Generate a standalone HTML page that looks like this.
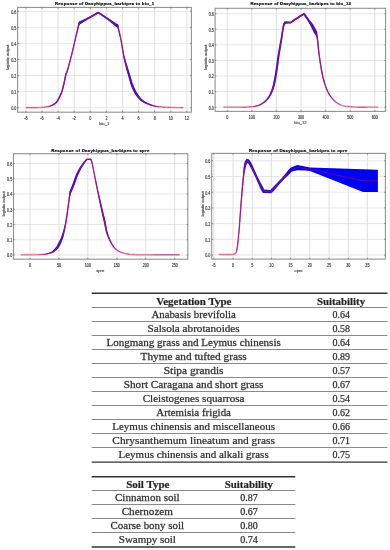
<!DOCTYPE html>
<html><head><meta charset="utf-8"><style>
html,body{margin:0;padding:0;background:#fff;}
svg{display:block;will-change:transform;}
.tl{font-family:"Liberation Sans",sans-serif;font-size:4.5px;fill:#333;stroke:#555;stroke-width:0.2px;}
.tt{font-family:"Liberation Sans",sans-serif;font-size:4.3px;font-weight:bold;fill:#000;stroke:#111;stroke-width:0.2px;}
.al{font-family:"Liberation Sans",sans-serif;font-size:4.15px;fill:#333;stroke:#555;stroke-width:0.15px;}
.tb text{font-family:"Liberation Serif",serif;font-size:10px;fill:#222;stroke:#444;stroke-width:0.25px;text-anchor:middle;}
</style></head><body>
<svg width="390" height="550" viewBox="0 0 390 550">
<rect width="390" height="550" fill="#fff"/>
<g>
<path d='M25.9 7.4V112.2 M42 7.4V112.2 M58.1 7.4V112.2 M74.2 7.4V112.2 M90.3 7.4V112.2 M106.4 7.4V112.2 M122.5 7.4V112.2 M138.6 7.4V112.2 M154.7 7.4V112.2 M170.8 7.4V112.2 M186.9 7.4V112.2' stroke='#d0d0d0' stroke-width='0.65' fill='none'/>
<path d='M17.6 107.7H191.4 M17.6 91.63H191.4 M17.6 75.56H191.4 M17.6 59.49H191.4 M17.6 43.42H191.4 M17.6 27.35H191.4 M17.6 11.28H191.4' stroke='#dadada' stroke-width='0.65' fill='none'/>
<rect x='17.6' y='7.4' width='173.8' height='104.8' fill='none' stroke='#929292' stroke-width='1.1'/>
<path d='M25.9 112.2v-1.3M25.9 7.4v1.3 M42 112.2v-1.3M42 7.4v1.3 M58.1 112.2v-1.3M58.1 7.4v1.3 M74.2 112.2v-1.3M74.2 7.4v1.3 M90.3 112.2v-1.3M90.3 7.4v1.3 M106.4 112.2v-1.3M106.4 7.4v1.3 M122.5 112.2v-1.3M122.5 7.4v1.3 M138.6 112.2v-1.3M138.6 7.4v1.3 M154.7 112.2v-1.3M154.7 7.4v1.3 M170.8 112.2v-1.3M170.8 7.4v1.3 M186.9 112.2v-1.3M186.9 7.4v1.3 M17.6 107.7h1.3M191.4 107.7h-1.3 M17.6 91.63h1.3M191.4 91.63h-1.3 M17.6 75.56h1.3M191.4 75.56h-1.3 M17.6 59.49h1.3M191.4 59.49h-1.3 M17.6 43.42h1.3M191.4 43.42h-1.3 M17.6 27.35h1.3M191.4 27.35h-1.3 M17.6 11.28h1.3M191.4 11.28h-1.3' stroke='#555' stroke-width='0.6' fill='none'/>
<g class='tl' text-anchor='middle'><text transform='translate(25.9 119.6) scale(0.82 1)'>-8</text><text transform='translate(42 119.6) scale(0.82 1)'>-6</text><text transform='translate(58.1 119.6) scale(0.82 1)'>-4</text><text transform='translate(74.2 119.6) scale(0.82 1)'>-2</text><text transform='translate(90.3 119.6) scale(0.82 1)'>0</text><text transform='translate(106.4 119.6) scale(0.82 1)'>2</text><text transform='translate(122.5 119.6) scale(0.82 1)'>4</text><text transform='translate(138.6 119.6) scale(0.82 1)'>6</text><text transform='translate(154.7 119.6) scale(0.82 1)'>8</text><text transform='translate(170.8 119.6) scale(0.82 1)'>10</text><text transform='translate(186.9 119.6) scale(0.82 1)'>12</text></g>
<g class='tl' text-anchor='end'><text transform='translate(16.3 110.1) scale(0.82 1)'>0.0</text><text transform='translate(16.3 94.03) scale(0.82 1)'>0.1</text><text transform='translate(16.3 77.96) scale(0.82 1)'>0.2</text><text transform='translate(16.3 61.89) scale(0.82 1)'>0.3</text><text transform='translate(16.3 45.82) scale(0.82 1)'>0.4</text><text transform='translate(16.3 29.75) scale(0.82 1)'>0.5</text><text transform='translate(16.3 13.68) scale(0.82 1)'>0.6</text></g>
<text class='tt' x='55' y='5.3' textLength='99.1' lengthAdjust='spacing'>Response of Dasyhippus_barbipes to bio_1</text>
<text class='al' x='104.2' y='124.6' text-anchor='middle'>bio_1</text>
<text class='al' transform='translate(9 57.3) rotate(-90)' text-anchor='middle'>logistic output</text>
<path d='M227.3 8.3V111.4 M251.88 8.3V111.4 M276.46 8.3V111.4 M301.04 8.3V111.4 M325.62 8.3V111.4 M350.2 8.3V111.4 M374.78 8.3V111.4' stroke='#d0d0d0' stroke-width='0.65' fill='none'/>
<path d='M215.1 107.2H385.6 M215.1 91.62H385.6 M215.1 76.04H385.6 M215.1 60.46H385.6 M215.1 44.88H385.6 M215.1 29.3H385.6 M215.1 13.72H385.6' stroke='#dadada' stroke-width='0.65' fill='none'/>
<rect x='215.1' y='8.3' width='170.5' height='103.1' fill='none' stroke='#929292' stroke-width='1.1'/>
<path d='M227.3 111.4v-1.3M227.3 8.3v1.3 M251.88 111.4v-1.3M251.88 8.3v1.3 M276.46 111.4v-1.3M276.46 8.3v1.3 M301.04 111.4v-1.3M301.04 8.3v1.3 M325.62 111.4v-1.3M325.62 8.3v1.3 M350.2 111.4v-1.3M350.2 8.3v1.3 M374.78 111.4v-1.3M374.78 8.3v1.3 M215.1 107.2h1.3M385.6 107.2h-1.3 M215.1 91.62h1.3M385.6 91.62h-1.3 M215.1 76.04h1.3M385.6 76.04h-1.3 M215.1 60.46h1.3M385.6 60.46h-1.3 M215.1 44.88h1.3M385.6 44.88h-1.3 M215.1 29.3h1.3M385.6 29.3h-1.3 M215.1 13.72h1.3M385.6 13.72h-1.3' stroke='#555' stroke-width='0.6' fill='none'/>
<g class='tl' text-anchor='middle'><text transform='translate(227.3 118.8) scale(0.82 1)'>0</text><text transform='translate(251.88 118.8) scale(0.82 1)'>100</text><text transform='translate(276.46 118.8) scale(0.82 1)'>200</text><text transform='translate(301.04 118.8) scale(0.82 1)'>300</text><text transform='translate(325.62 118.8) scale(0.82 1)'>400</text><text transform='translate(350.2 118.8) scale(0.82 1)'>500</text><text transform='translate(374.78 118.8) scale(0.82 1)'>600</text></g>
<g class='tl' text-anchor='end'><text transform='translate(213.8 109.6) scale(0.82 1)'>0.0</text><text transform='translate(213.8 94.02) scale(0.82 1)'>0.1</text><text transform='translate(213.8 78.44) scale(0.82 1)'>0.2</text><text transform='translate(213.8 62.86) scale(0.82 1)'>0.3</text><text transform='translate(213.8 47.28) scale(0.82 1)'>0.4</text><text transform='translate(213.8 31.7) scale(0.82 1)'>0.5</text><text transform='translate(213.8 16.12) scale(0.82 1)'>0.6</text></g>
<text class='tt' x='250.4' y='5.3' textLength='100.6' lengthAdjust='spacing'>Response of Dasyhippus_barbipes to bio_12</text>
<text class='al' x='300.4' y='124.2' text-anchor='middle'>bio_12</text>
<text class='al' transform='translate(207 57.3) rotate(-90)' text-anchor='middle'>logistic output</text>
<path d='M30 153.7V259.2 M58.94 153.7V259.2 M87.88 153.7V259.2 M116.82 153.7V259.2 M145.76 153.7V259.2 M174.7 153.7V259.2' stroke='#d0d0d0' stroke-width='0.65' fill='none'/>
<path d='M13.5 255H187.8 M13.5 239.75H187.8 M13.5 224.5H187.8 M13.5 209.25H187.8 M13.5 194H187.8 M13.5 178.75H187.8 M13.5 163.5H187.8' stroke='#dadada' stroke-width='0.65' fill='none'/>
<rect x='13.5' y='153.7' width='174.3' height='105.5' fill='none' stroke='#929292' stroke-width='1.1'/>
<path d='M30 259.2v-1.3M30 153.7v1.3 M58.94 259.2v-1.3M58.94 153.7v1.3 M87.88 259.2v-1.3M87.88 153.7v1.3 M116.82 259.2v-1.3M116.82 153.7v1.3 M145.76 259.2v-1.3M145.76 153.7v1.3 M174.7 259.2v-1.3M174.7 153.7v1.3 M13.5 255h1.3M187.8 255h-1.3 M13.5 239.75h1.3M187.8 239.75h-1.3 M13.5 224.5h1.3M187.8 224.5h-1.3 M13.5 209.25h1.3M187.8 209.25h-1.3 M13.5 194h1.3M187.8 194h-1.3 M13.5 178.75h1.3M187.8 178.75h-1.3 M13.5 163.5h1.3M187.8 163.5h-1.3' stroke='#555' stroke-width='0.6' fill='none'/>
<g class='tl' text-anchor='middle'><text transform='translate(30 266.6) scale(0.82 1)'>0</text><text transform='translate(58.94 266.6) scale(0.82 1)'>50</text><text transform='translate(87.88 266.6) scale(0.82 1)'>100</text><text transform='translate(116.82 266.6) scale(0.82 1)'>150</text><text transform='translate(145.76 266.6) scale(0.82 1)'>200</text><text transform='translate(174.7 266.6) scale(0.82 1)'>250</text></g>
<g class='tl' text-anchor='end'><text transform='translate(12.2 257.4) scale(0.82 1)'>0.0</text><text transform='translate(12.2 242.15) scale(0.82 1)'>0.1</text><text transform='translate(12.2 226.9) scale(0.82 1)'>0.2</text><text transform='translate(12.2 211.65) scale(0.82 1)'>0.3</text><text transform='translate(12.2 196.4) scale(0.82 1)'>0.4</text><text transform='translate(12.2 181.15) scale(0.82 1)'>0.5</text><text transform='translate(12.2 165.9) scale(0.82 1)'>0.6</text></g>
<text class='tt' x='51.2' y='151.6' textLength='98.2' lengthAdjust='spacing'>Response of Dasyhippus_barbipes to spre</text>
<text class='al' x='100.2' y='272' text-anchor='middle'>spre</text>
<text class='al' transform='translate(5.2 203.9) rotate(-90)' text-anchor='middle'>logistic output</text>
<path d='M213.8 153.4V259.1 M233 153.4V259.1 M252.2 153.4V259.1 M271.4 153.4V259.1 M290.6 153.4V259.1 M309.8 153.4V259.1 M329 153.4V259.1 M348.2 153.4V259.1 M367.4 153.4V259.1' stroke='#d0d0d0' stroke-width='0.65' fill='none'/>
<path d='M211.7 255H385.4 M211.7 239.3H385.4 M211.7 223.6H385.4 M211.7 207.9H385.4 M211.7 192.2H385.4 M211.7 176.5H385.4 M211.7 160.8H385.4' stroke='#dadada' stroke-width='0.65' fill='none'/>
<rect x='211.7' y='153.4' width='173.7' height='105.7' fill='none' stroke='#929292' stroke-width='1.1'/>
<path d='M213.8 259.1v-1.3M213.8 153.4v1.3 M233 259.1v-1.3M233 153.4v1.3 M252.2 259.1v-1.3M252.2 153.4v1.3 M271.4 259.1v-1.3M271.4 153.4v1.3 M290.6 259.1v-1.3M290.6 153.4v1.3 M309.8 259.1v-1.3M309.8 153.4v1.3 M329 259.1v-1.3M329 153.4v1.3 M348.2 259.1v-1.3M348.2 153.4v1.3 M367.4 259.1v-1.3M367.4 153.4v1.3 M211.7 255h1.3M385.4 255h-1.3 M211.7 239.3h1.3M385.4 239.3h-1.3 M211.7 223.6h1.3M385.4 223.6h-1.3 M211.7 207.9h1.3M385.4 207.9h-1.3 M211.7 192.2h1.3M385.4 192.2h-1.3 M211.7 176.5h1.3M385.4 176.5h-1.3 M211.7 160.8h1.3M385.4 160.8h-1.3' stroke='#555' stroke-width='0.6' fill='none'/>
<g class='tl' text-anchor='middle'><text transform='translate(213.8 266.5) scale(0.82 1)'>-5</text><text transform='translate(233 266.5) scale(0.82 1)'>0</text><text transform='translate(252.2 266.5) scale(0.82 1)'>5</text><text transform='translate(271.4 266.5) scale(0.82 1)'>10</text><text transform='translate(290.6 266.5) scale(0.82 1)'>15</text><text transform='translate(309.8 266.5) scale(0.82 1)'>20</text><text transform='translate(329 266.5) scale(0.82 1)'>25</text><text transform='translate(348.2 266.5) scale(0.82 1)'>30</text><text transform='translate(367.4 266.5) scale(0.82 1)'>35</text></g>
<g class='tl' text-anchor='end'><text transform='translate(210.4 257.4) scale(0.82 1)'>0.0</text><text transform='translate(210.4 241.7) scale(0.82 1)'>0.1</text><text transform='translate(210.4 226) scale(0.82 1)'>0.2</text><text transform='translate(210.4 210.3) scale(0.82 1)'>0.3</text><text transform='translate(210.4 194.6) scale(0.82 1)'>0.4</text><text transform='translate(210.4 178.9) scale(0.82 1)'>0.5</text><text transform='translate(210.4 163.2) scale(0.82 1)'>0.6</text></g>
<text class='tt' x='248.9' y='151.6' textLength='98.5' lengthAdjust='spacing'>Response of Dasyhippus_barbipes to opre</text>
<text class='al' x='298.5' y='271.8' text-anchor='middle'>opre</text>
<text class='al' transform='translate(203.7 203.9) rotate(-90)' text-anchor='middle'>logistic output</text>
<polyline points='25.9,107.6 26.94,107.6 28.41,107.6 30.13,107.61 31.93,107.61 33.61,107.61 35,107.6 36.1,107.59 37.04,107.58 37.87,107.57 38.64,107.55 39.37,107.53 40.1,107.5 40.81,107.47 41.47,107.43 42.1,107.39 42.71,107.34 43.34,107.28 44,107.2 44.71,107.11 45.44,107.01 46.19,106.89 46.93,106.77 47.64,106.64 48.3,106.5 48.9,106.36 49.46,106.21 49.98,106.05 50.49,105.88 50.99,105.7 51.5,105.5 52.02,105.29 52.54,105.06 53.06,104.83 53.56,104.57 54.04,104.3 54.5,104 54.93,103.68 55.34,103.35 55.73,102.99 56.1,102.62 56.45,102.22 56.8,101.8 57.13,101.36 57.43,100.89 57.72,100.4 58.01,99.89 58.3,99.36 58.6,98.8 58.91,98.22 59.23,97.61 59.56,96.99 59.88,96.34 60.19,95.68 60.5,95 60.79,94.35 61.07,93.72 61.34,93.08 61.62,92.37 61.9,91.56 62.2,90.6 62.52,89.45 62.86,88.15 63.2,86.74 63.54,85.28 63.88,83.82 64.2,82.4 64.52,80.93 64.85,79.33 65.18,77.74 65.47,76.26 65.72,75 65.9,74.1 66.07,73.71 66.28,73.28 66.54,72.71 66.86,71.93 67.25,70.86 67.7,69.4 68.26,67.45 68.91,65.06 69.64,62.37 70.39,59.53 71.12,56.69 71.8,54 72.43,51.41 73.05,48.78 73.66,46.16 74.25,43.56 74.83,41.03 75.4,38.6 75.98,36.16 76.57,33.68 77.15,31.26 77.7,29.01 78.19,27.05 78.6,25.5 78.93,24.42 79.19,23.73 79.4,23.33 79.56,23.11 79.69,22.97 79.8,22.8 80.24,22.56 80.82,22.24 81.52,21.86 82.31,21.43 83.15,20.97 84,20.5 84.87,20.02 85.79,19.52 86.75,18.99 87.77,18.43 88.85,17.84 90,17.2 91.33,16.46 92.87,15.59 94.47,14.69 95.99,13.84 97.28,13.12 98.2,12.6 99.31,13.32 100.88,14.33 102.73,15.52 104.65,16.77 106.47,17.97 108,19 109.25,19.89 110.39,20.72 111.41,21.51 112.35,22.23 113.21,22.9 114,23.5 114.73,24.04 115.39,24.51 115.97,24.93 116.47,25.29 116.88,25.58 117.2,25.8 117.3,25.99 117.43,26.17 117.58,26.43 117.77,26.85 118.01,27.51 118.3,28.5 118.66,29.87 119.09,31.55 119.56,33.48 120.05,35.58 120.54,37.78 121,40 121.44,42.35 121.87,44.91 122.31,47.57 122.74,50.22 123.17,52.73 123.6,55 124.03,56.99 124.45,58.79 124.87,60.45 125.3,62.05 125.74,63.64 126.2,65.3 126.68,67 127.17,68.7 127.67,70.4 128.18,72.1 128.69,73.8 129.2,75.5 129.7,77.24 130.19,79 130.68,80.77 131.19,82.52 131.72,84.2 132.3,85.8 132.91,87.31 133.56,88.77 134.23,90.16 134.92,91.5 135.65,92.78 136.4,94 137.17,95.16 137.95,96.26 138.76,97.31 139.61,98.29 140.52,99.22 141.5,100.1 142.58,100.92 143.74,101.69 144.97,102.4 146.22,103.06 147.48,103.66 148.7,104.2 149.91,104.68 151.14,105.1 152.37,105.46 153.58,105.78 154.76,106.05 155.9,106.3 156.96,106.5 157.94,106.65 158.9,106.76 159.87,106.84 160.89,106.92 162,107 163.16,107.09 164.33,107.16 165.55,107.23 166.87,107.29 168.34,107.35 170,107.4 172.06,107.45 174.53,107.49 177.15,107.53 179.66,107.56 181.79,107.58 183.3,107.6' fill='none' stroke='#eeb0c6' stroke-width='1.8' stroke-linejoin='round'/>
<polygon points='25.9,107.65 26.94,107.65 28.41,107.65 30.13,107.66 31.93,107.66 33.61,107.66 35,107.65 36.1,107.64 37.04,107.63 37.88,107.62 38.64,107.6 39.37,107.58 40.1,107.55 40.82,107.52 41.48,107.48 42.1,107.44 42.72,107.39 43.35,107.33 44.01,107.25 44.72,107.19 45.46,107.11 46.21,107.02 46.96,106.92 47.68,106.81 48.34,106.7 48.96,106.61 49.54,106.5 50.09,106.39 50.62,106.27 51.15,106.12 51.68,105.95 52.22,105.76 52.76,105.55 53.3,105.33 53.83,105.08 54.36,104.81 54.86,104.52 55.32,104.18 55.76,103.83 56.18,103.46 56.58,103.07 56.96,102.66 57.33,102.21 57.68,101.74 58.01,101.25 58.31,100.74 58.6,100.21 58.89,99.68 59.19,99.12 59.51,98.54 59.83,97.93 60.16,97.29 60.48,96.64 60.81,95.96 61.12,95.28 61.4,94.62 61.67,93.98 61.95,93.32 62.22,92.59 62.51,91.76 62.8,90.78 63.12,89.61 63.45,88.3 63.79,86.88 64.12,85.42 64.45,83.95 64.77,82.53 65.1,81.05 65.45,79.46 65.79,77.86 66.1,76.38 66.36,75.13 66.55,74.28 66.66,73.99 66.85,73.55 67.1,72.95 67.41,72.14 67.77,71.03 68.21,69.55 68.75,67.59 69.4,65.19 70.11,62.49 70.84,59.65 71.56,56.8 72.22,54.11 72.86,51.51 73.48,48.88 74.08,46.25 74.67,43.66 75.26,41.13 75.83,38.7 76.44,36.27 77.07,33.8 77.69,31.39 78.27,29.15 78.8,27.21 79.25,25.68 79.7,24.68 80.07,24.11 80.34,23.9 80.53,23.9 80.8,23.81 80.72,24.02 80.93,23.83 81.48,23.44 82.15,22.99 82.89,22.49 83.69,21.96 84.51,21.43 85.37,20.93 86.27,20.41 87.22,19.86 88.23,19.27 89.31,18.66 90.44,18 91.78,17.25 93.32,16.39 94.92,15.49 96.44,14.64 97.73,13.91 98.11,13.51 98.81,14.09 100.38,15.11 102.22,16.3 104.14,17.56 105.95,18.76 107.46,19.79 108.66,20.7 109.75,21.57 110.74,22.38 111.64,23.14 112.48,23.85 113.26,24.5 113.95,25.11 114.57,25.65 115.11,26.14 115.57,26.56 115.94,26.91 115.98,27.02 115.99,26.78 116.3,26.89 116.56,26.96 116.88,27.2 117.28,27.74 117.74,28.65 118.12,30.01 118.57,31.68 119.06,33.6 119.58,35.69 120.09,37.88 120.57,40.08 120.98,42.43 121.4,44.99 121.8,47.66 122.21,50.31 122.62,52.83 123.03,55.11 123.4,57.13 123.77,58.95 124.13,60.64 124.5,62.27 124.88,63.88 125.27,65.56 125.72,67.28 126.18,68.99 126.66,70.7 127.14,72.41 127.62,74.12 128.1,75.82 128.58,77.55 129.05,79.32 129.53,81.1 130.03,82.87 130.56,84.6 131.14,86.24 131.77,87.8 132.42,89.29 133.11,90.72 133.83,92.09 134.58,93.41 135.35,94.67 136.17,95.85 137,96.97 137.87,98.03 138.78,99.05 139.77,100.01 140.83,100.91 142.01,101.73 143.26,102.48 144.55,103.16 145.86,103.77 147.17,104.33 148.44,104.82 149.7,105.27 150.97,105.65 152.23,105.98 153.47,106.25 154.67,106.48 155.83,106.65 156.91,106.81 157.91,106.9 158.88,106.96 159.85,106.99 160.88,107.02 162,107.05 163.16,107.14 164.33,107.21 165.55,107.28 166.87,107.34 168.34,107.4 170,107.45 172.06,107.5 174.53,107.54 177.15,107.57 179.65,107.61 181.79,107.63 183.3,107.65 183.3,107.55 181.79,107.53 179.66,107.51 177.15,107.48 174.53,107.44 172.06,107.4 170,107.35 168.34,107.3 166.87,107.24 165.55,107.18 164.33,107.11 163.17,107.04 162,106.95 160.89,106.82 159.88,106.69 158.92,106.55 157.98,106.39 157.01,106.2 155.97,105.95 154.86,105.63 153.7,105.31 152.51,104.95 151.32,104.55 150.13,104.09 148.96,103.58 147.79,102.99 146.58,102.34 145.39,101.64 144.23,100.9 143.15,100.11 142.17,99.29 141.27,98.44 140.43,97.54 139.65,96.58 138.9,95.56 138.17,94.48 137.45,93.33 136.72,92.15 136.02,90.91 135.34,89.61 134.69,88.25 134.06,86.83 133.46,85.36 132.89,83.81 132.35,82.17 131.83,80.45 131.33,78.69 130.82,76.92 130.3,75.18 129.76,73.47 129.22,71.78 128.68,70.1 128.15,68.42 127.63,66.73 127.13,65.04 126.61,63.41 126.11,61.83 125.62,60.26 125.14,58.62 124.66,56.85 124.17,54.89 123.72,52.63 123.26,50.13 122.81,47.49 122.35,44.84 121.89,42.27 121.43,39.92 120.99,37.68 120.52,35.47 120.05,33.36 119.6,31.42 119.2,29.73 118.86,28.35 118.75,27.28 118.67,26.49 118.6,25.9 118.56,25.45 118.61,25.2 118.42,24.58 117.83,24.24 117.38,24.01 116.84,23.72 116.21,23.38 115.51,22.97 114.74,22.5 113.93,21.95 113.05,21.33 112.09,20.63 111.02,19.88 109.84,19.07 108.54,18.21 107,17.18 105.17,15.98 103.23,14.73 101.38,13.55 99.81,12.54 98.29,11.69 96.84,12.32 95.55,13.05 94.03,13.9 92.43,14.8 90.89,15.66 89.56,16.4 88.4,17.02 87.31,17.59 86.28,18.13 85.3,18.64 84.37,19.12 83.49,19.57 82.6,19.97 81.73,20.36 80.9,20.72 80.16,21.04 79.54,21.29 78.88,21.58 78.58,22.14 78.6,22.33 78.46,22.76 78.31,23.35 78.15,24.16 77.95,25.32 77.57,26.9 77.12,28.87 76.61,31.13 76.07,33.56 75.52,36.05 74.97,38.5 74.4,40.93 73.82,43.47 73.23,46.06 72.63,48.68 72.01,51.3 71.38,53.89 70.68,56.58 69.93,59.41 69.17,62.24 68.43,64.93 67.76,67.31 67.19,69.25 66.72,70.68 66.32,71.73 65.99,72.47 65.71,73.01 65.48,73.44 65.25,73.92 65.07,74.88 64.84,76.13 64.56,77.61 64.25,79.21 63.94,80.8 63.63,82.27 63.31,83.69 62.96,85.15 62.61,86.6 62.26,88 61.92,89.29 61.6,90.42 61.3,91.36 61.01,92.15 60.74,92.83 60.47,93.46 60.18,94.07 59.88,94.72 59.58,95.39 59.27,96.05 58.95,96.68 58.63,97.3 58.32,97.9 58.01,98.48 57.71,99.03 57.42,99.56 57.14,100.06 56.86,100.53 56.57,100.97 56.27,101.39 55.95,101.79 55.62,102.17 55.27,102.52 54.92,102.86 54.54,103.18 54.14,103.48 53.73,103.78 53.29,104.06 52.81,104.32 52.32,104.58 51.82,104.82 51.32,105.05 50.83,105.27 50.35,105.49 49.87,105.71 49.37,105.91 48.84,106.11 48.26,106.3 47.61,106.46 46.91,106.62 46.17,106.77 45.43,106.91 44.7,107.03 43.99,107.15 43.34,107.23 42.71,107.29 42.1,107.34 41.47,107.38 40.81,107.42 40.1,107.45 39.36,107.48 38.64,107.5 37.87,107.52 37.04,107.53 36.09,107.54 35,107.55 33.61,107.56 31.93,107.56 30.13,107.56 28.41,107.55 26.94,107.55 25.9,107.55' fill='#3210c6'/>
<polyline points='25.9,107.6 26.94,107.6 28.41,107.6 30.13,107.61 31.93,107.61 33.61,107.61 35,107.6 36.1,107.59 37.04,107.58 37.87,107.57 38.64,107.55 39.37,107.53 40.1,107.5 40.81,107.47 41.47,107.43 42.1,107.39 42.71,107.34 43.34,107.28 44,107.2 44.71,107.11 45.44,107.01 46.19,106.89 46.93,106.77 47.64,106.64 48.3,106.5 48.9,106.36 49.46,106.21 49.98,106.05 50.49,105.88 50.99,105.7 51.5,105.5 52.02,105.29 52.54,105.06 53.06,104.83 53.56,104.57 54.04,104.3 54.5,104 54.93,103.68 55.34,103.35 55.73,102.99 56.1,102.62 56.45,102.22 56.8,101.8 57.13,101.36 57.43,100.89 57.72,100.4 58.01,99.89 58.3,99.36 58.6,98.8 58.91,98.22 59.23,97.61 59.56,96.99 59.88,96.34 60.19,95.68 60.5,95 60.79,94.35 61.07,93.72 61.34,93.08 61.62,92.37 61.9,91.56 62.2,90.6 62.52,89.45 62.86,88.15 63.2,86.74 63.54,85.28 63.88,83.82 64.2,82.4 64.52,80.93 64.85,79.33 65.18,77.74 65.47,76.26 65.72,75 65.9,74.1 66.07,73.71 66.28,73.28 66.54,72.71 66.86,71.93 67.25,70.86 67.7,69.4 68.26,67.45 68.91,65.06 69.64,62.37 70.39,59.53 71.12,56.69 71.8,54 72.43,51.41 73.05,48.78 73.66,46.16 74.25,43.56 74.83,41.03 75.4,38.6 75.98,36.16 76.57,33.68 77.15,31.26 77.7,29.01 78.19,27.05 78.6,25.5 78.93,24.42 79.19,23.73 79.4,23.33 79.56,23.11 79.69,22.97 79.8,22.8 80.24,22.56 80.82,22.24 81.52,21.86 82.31,21.43 83.15,20.97 84,20.5 84.87,20.02 85.79,19.52 86.75,18.99 87.77,18.43 88.85,17.84 90,17.2 91.33,16.46 92.87,15.59 94.47,14.69 95.99,13.84 97.28,13.12 98.2,12.6 99.31,13.32 100.88,14.33 102.73,15.52 104.65,16.77 106.47,17.97 108,19 109.25,19.89 110.39,20.72 111.41,21.51 112.35,22.23 113.21,22.9 114,23.5 114.73,24.04 115.39,24.51 115.97,24.93 116.47,25.29 116.88,25.58 117.2,25.8 117.3,25.99 117.43,26.17 117.58,26.43 117.77,26.85 118.01,27.51 118.3,28.5 118.66,29.87 119.09,31.55 119.56,33.48 120.05,35.58 120.54,37.78 121,40 121.44,42.35 121.87,44.91 122.31,47.57 122.74,50.22 123.17,52.73 123.6,55 124.03,56.99 124.45,58.79 124.87,60.45 125.3,62.05 125.74,63.64 126.2,65.3 126.68,67 127.17,68.7 127.67,70.4 128.18,72.1 128.69,73.8 129.2,75.5 129.7,77.24 130.19,79 130.68,80.77 131.19,82.52 131.72,84.2 132.3,85.8 132.91,87.31 133.56,88.77 134.23,90.16 134.92,91.5 135.65,92.78 136.4,94 137.17,95.16 137.95,96.26 138.76,97.31 139.61,98.29 140.52,99.22 141.5,100.1 142.58,100.92 143.74,101.69 144.97,102.4 146.22,103.06 147.48,103.66 148.7,104.2 149.91,104.68 151.14,105.1 152.37,105.46 153.58,105.78 154.76,106.05 155.9,106.3 156.96,106.5 157.94,106.65 158.9,106.76 159.87,106.84 160.89,106.92 162,107 163.16,107.09 164.33,107.16 165.55,107.23 166.87,107.29 168.34,107.35 170,107.4 172.06,107.45 174.53,107.49 177.15,107.53 179.66,107.56 181.79,107.58 183.3,107.6' fill='none' stroke='#e01050' stroke-opacity='0.38' stroke-width='1.1' stroke-linejoin='round'/>
<polyline points='48.9,106.36 49.46,106.21 49.98,106.05 50.49,105.88 50.99,105.7 51.5,105.5 52.02,105.29 52.54,105.06 53.06,104.83 53.56,104.57 54.04,104.3 54.5,104 54.93,103.68 55.34,103.35 55.73,102.99 56.1,102.62 56.45,102.22 56.8,101.8 57.13,101.36 57.43,100.89 57.72,100.4 58.01,99.89 58.3,99.36 58.6,98.8 58.91,98.22 59.23,97.61 59.56,96.99 59.88,96.34 60.19,95.68 60.5,95 60.79,94.35 61.07,93.72 61.34,93.08 61.62,92.37 61.9,91.56 62.2,90.6 62.52,89.45 62.86,88.15 63.2,86.74 63.54,85.28 63.88,83.82 64.2,82.4 64.52,80.93 64.85,79.33 65.18,77.74 65.47,76.26 65.72,75 65.9,74.1 66.07,73.71 66.28,73.28 66.54,72.71 66.86,71.93 67.25,70.86 67.7,69.4 68.26,67.45 68.91,65.06 69.64,62.37 70.39,59.53 71.12,56.69 71.8,54 72.43,51.41 73.05,48.78 73.66,46.16 74.25,43.56 74.83,41.03 75.4,38.6 75.98,36.16 76.57,33.68 77.15,31.26 77.7,29.01 78.19,27.05 78.6,25.5 78.93,24.42 79.19,23.73' fill='none' stroke='#e01050' stroke-opacity='0.35' stroke-width='0.9' stroke-linejoin='round' stroke-linecap='round'/>
<polyline points='85.79,19.52 86.75,18.99 87.77,18.43 88.85,17.84 90,17.2 91.33,16.46 92.87,15.59 94.47,14.69 95.99,13.84 97.28,13.12 98.2,12.6 99.31,13.32 100.88,14.33 102.73,15.52 104.65,16.77 106.47,17.97 108,19' fill='none' stroke='#e01050' stroke-opacity='0.35' stroke-width='0.9' stroke-linejoin='round' stroke-linecap='round'/>
<polyline points='117.77,26.85 118.01,27.51 118.3,28.5 118.66,29.87 119.09,31.55 119.56,33.48 120.05,35.58 120.54,37.78 121,40 121.44,42.35 121.87,44.91 122.31,47.57 122.74,50.22 123.17,52.73 123.6,55 124.03,56.99 124.45,58.79 124.87,60.45 125.3,62.05 125.74,63.64 126.2,65.3 126.68,67' fill='none' stroke='#e01050' stroke-opacity='0.35' stroke-width='0.9' stroke-linejoin='round' stroke-linecap='round'/>
<polyline points='142.58,100.92 143.74,101.69 144.97,102.4 146.22,103.06 147.48,103.66 148.7,104.2 149.91,104.68 151.14,105.1 152.37,105.46 153.58,105.78 154.76,106.05 155.9,106.3 156.96,106.5 157.94,106.65' fill='none' stroke='#e01050' stroke-opacity='0.35' stroke-width='0.9' stroke-linejoin='round' stroke-linecap='round'/>
<polyline points='223.5,107.2 225.39,107.2 228.09,107.21 231.25,107.21 234.52,107.21 237.55,107.21 240,107.2 241.84,107.18 243.34,107.17 244.61,107.14 245.74,107.11 246.83,107.06 248,107 249.21,106.93 250.37,106.86 251.49,106.78 252.6,106.66 253.7,106.51 254.8,106.3 255.9,106.06 256.99,105.81 258.06,105.51 259.14,105.15 260.21,104.69 261.3,104.1 262.41,103.4 263.56,102.61 264.7,101.72 265.82,100.73 266.9,99.63 267.9,98.4 268.83,97.06 269.72,95.62 270.56,94.06 271.36,92.38 272.1,90.56 272.8,88.6 273.44,86.47 274.02,84.18 274.55,81.76 275.05,79.22 275.53,76.59 276,73.9 276.45,71.08 276.87,68.11 277.28,65.06 277.67,61.97 278.07,58.93 278.5,56 278.96,53.14 279.44,50.3 279.93,47.5 280.41,44.77 280.87,42.12 281.3,39.6 281.7,37.12 282.07,34.64 282.42,32.26 282.76,30.05 283.09,28.1 283.4,26.5 283.71,25.3 284.03,24.43 284.33,23.83 284.6,23.41 284.83,23.09 285,22.8 285.2,22.76 285.46,22.71 285.78,22.64 286.15,22.58 286.56,22.53 287,22.5 287.54,22.49 288.19,22.51 288.88,22.53 289.54,22.56 290.1,22.58 290.5,22.6 291.2,22.12 292.17,21.46 293.31,20.68 294.56,19.83 295.81,18.98 297,18.2 298.22,17.42 299.56,16.57 300.91,15.72 302.17,14.94 303.23,14.28 304,13.8 304.47,14.48 305.14,15.43 305.92,16.56 306.75,17.76 307.57,18.94 308.3,20 308.95,20.94 309.58,21.83 310.19,22.7 310.8,23.58 311.4,24.5 312,25.5 312.65,26.66 313.34,27.98 314.03,29.34 314.67,30.63 315.21,31.72 315.6,32.5 315.79,32.99 316.04,33.59 316.35,34.33 316.68,35.28 317,36.49 317.3,38 317.56,39.9 317.81,42.16 318.06,44.67 318.31,47.34 318.59,50.05 318.9,52.7 319.25,55.38 319.64,58.19 320.04,61.05 320.46,63.86 320.88,66.54 321.3,69 321.69,71.2 322.07,73.19 322.44,75.06 322.84,76.85 323.29,78.64 323.8,80.5 324.37,82.44 324.99,84.43 325.65,86.41 326.36,88.35 327.11,90.19 327.9,91.9 328.74,93.48 329.62,94.96 330.54,96.35 331.51,97.65 332.53,98.87 333.6,100 334.73,101.05 335.91,102.02 337.15,102.91 338.42,103.7 339.71,104.4 341,105 342.3,105.48 343.62,105.83 344.96,106.08 346.31,106.27 347.7,106.44 349.1,106.6 350.41,106.75 351.59,106.86 352.79,106.94 354.16,107 355.85,107.05 358,107.1 360.96,107.14 364.67,107.17 368.71,107.18 372.61,107.19 375.96,107.19 378.3,107.2' fill='none' stroke='#eeb0c6' stroke-width='1.8' stroke-linejoin='round'/>
<polygon points='223.5,107.25 225.39,107.25 228.09,107.26 231.25,107.26 234.52,107.26 237.55,107.26 240,107.25 241.84,107.23 243.34,107.22 244.61,107.19 245.74,107.16 246.84,107.11 248,107.05 249.21,107.01 250.37,106.96 251.5,106.9 252.62,106.82 253.73,106.69 254.84,106.5 255.96,106.31 257.06,106.11 258.17,105.86 259.28,105.53 260.41,105.09 261.54,104.52 262.71,103.84 263.9,103.08 265.1,102.21 266.29,101.22 267.44,100.11 268.51,98.86 269.51,97.5 270.46,96.04 271.36,94.46 272.21,92.76 273.01,90.91 273.76,88.91 274.42,86.74 275.01,84.42 275.56,81.97 276.07,79.41 276.56,76.78 277.04,74.08 277.49,71.24 277.9,68.26 278.3,65.19 278.69,62.11 279.08,59.07 279.5,56.15 279.93,53.3 280.38,50.46 280.85,47.66 281.31,44.92 281.75,42.28 282.15,39.74 282.54,37.25 282.89,34.76 283.23,32.38 283.55,30.17 283.86,28.24 284.15,26.67 284.54,25.55 284.91,24.81 285.25,24.35 285.56,24.06 285.88,23.77 285.9,23.8 285.46,24.05 285.72,23.96 286.01,23.87 286.32,23.78 286.67,23.71 287.04,23.65 287.53,23.6 288.16,23.56 288.84,23.54 289.5,23.52 290.06,23.5 290.84,23.4 291.69,22.84 292.66,22.17 293.8,21.39 295.04,20.55 296.29,19.7 297.47,18.92 298.69,18.16 300.03,17.33 301.39,16.5 302.66,15.73 303.73,15.08 303.84,14.75 303.67,15.04 304.32,16 305.09,17.13 305.91,18.34 306.71,19.53 307.43,20.6 308.02,21.59 308.59,22.53 309.13,23.44 309.65,24.34 310.17,25.28 310.68,26.27 311.27,27.4 311.92,28.71 312.58,30.07 313.19,31.37 313.7,32.47 314.03,33.21 314.37,33.57 314.81,34.11 315.27,34.73 315.76,35.56 316.25,36.66 316.73,38.09 317,39.97 317.27,42.22 317.53,44.73 317.8,47.39 318.09,50.11 318.42,52.76 318.77,55.44 319.16,58.26 319.56,61.12 319.98,63.94 320.41,66.62 320.82,69.08 321.22,71.28 321.59,73.29 321.97,75.16 322.37,76.96 322.82,78.77 323.33,80.63 323.92,82.58 324.54,84.57 325.21,86.56 325.93,88.51 326.7,90.37 327.51,92.09 328.39,93.67 329.31,95.15 330.28,96.53 331.29,97.83 332.35,99.03 333.46,100.15 334.61,101.19 335.82,102.14 337.08,103.01 338.37,103.79 339.67,104.47 340.98,105.05 342.29,105.52 343.61,105.87 344.95,106.13 346.31,106.32 347.69,106.49 349.09,106.65 350.4,106.8 351.58,106.91 352.78,106.99 354.16,107.05 355.85,107.1 358,107.15 360.96,107.19 364.67,107.22 368.71,107.23 372.61,107.24 375.96,107.24 378.3,107.25 378.3,107.15 375.96,107.14 372.61,107.14 368.71,107.13 364.67,107.12 360.96,107.09 358,107.05 355.85,107 354.16,106.95 352.79,106.89 351.59,106.81 350.41,106.7 349.11,106.55 347.7,106.39 346.32,106.22 344.96,106.03 343.63,105.78 342.32,105.43 341.02,104.95 339.74,104.33 338.47,103.61 337.22,102.8 336.01,101.9 334.84,100.92 333.74,99.85 332.72,98.71 331.74,97.48 330.81,96.17 329.92,94.77 329.09,93.28 328.29,91.71 327.51,90.01 326.78,88.19 326.09,86.26 325.44,84.29 324.83,82.31 324.27,80.37 323.76,78.52 323.32,76.74 322.92,74.96 322.54,73.1 322.17,71.11 321.78,68.92 321.36,66.46 320.94,63.79 320.52,60.98 320.12,58.13 319.73,55.32 319.38,52.64 319.09,50 318.83,47.29 318.59,44.62 318.36,42.1 318.12,39.83 317.87,37.91 317.75,36.32 317.6,35 317.43,33.93 317.28,33.07 317.2,32.41 317.17,31.79 316.72,30.97 316.15,29.89 315.48,28.61 314.76,27.25 314.02,25.92 313.32,24.73 312.63,23.73 311.94,22.82 311.26,21.96 310.57,21.13 309.88,20.29 309.17,19.4 308.42,18.35 307.59,17.17 306.75,15.98 305.95,14.87 305.28,13.93 304.16,12.85 302.73,13.48 301.68,14.15 300.42,14.95 299.08,15.81 297.75,16.67 296.53,17.48 295.33,18.26 294.07,19.11 292.83,19.96 291.68,20.75 290.71,21.41 290.16,21.8 290.14,21.67 289.58,21.6 288.91,21.52 288.21,21.45 287.54,21.39 286.96,21.35 286.44,21.35 285.97,21.38 285.56,21.42 285.21,21.46 284.94,21.48 284.1,21.8 283.79,22.42 283.65,22.77 283.41,23.31 283.14,24.06 282.89,25.04 282.65,26.33 282.31,27.96 281.97,29.92 281.62,32.13 281.25,34.52 280.86,36.99 280.45,39.46 279.99,41.97 279.51,44.61 279,47.34 278.49,50.14 277.99,52.98 277.5,55.85 277.07,58.79 276.66,61.84 276.25,64.92 275.84,67.97 275.42,70.93 274.96,73.72 274.5,76.41 274.03,79.03 273.54,81.55 273.02,83.95 272.46,86.2 271.84,88.29 271.2,90.22 270.51,92.01 269.77,93.66 268.99,95.19 268.16,96.62 267.29,97.94 266.36,99.15 265.36,100.25 264.3,101.24 263.21,102.14 262.12,102.96 261.06,103.68 260.02,104.28 258.99,104.76 257.96,105.17 256.91,105.51 255.84,105.81 254.76,106.1 253.67,106.33 252.58,106.51 251.48,106.65 250.36,106.76 249.2,106.85 248,106.95 246.83,107.01 245.74,107.06 244.61,107.09 243.34,107.12 241.84,107.13 240,107.15 237.55,107.16 234.52,107.16 231.25,107.16 228.09,107.16 225.39,107.15 223.5,107.15' fill='#3210c6'/>
<polyline points='223.5,107.2 225.39,107.2 228.09,107.21 231.25,107.21 234.52,107.21 237.55,107.21 240,107.2 241.84,107.18 243.34,107.17 244.61,107.14 245.74,107.11 246.83,107.06 248,107 249.21,106.93 250.37,106.86 251.49,106.78 252.6,106.66 253.7,106.51 254.8,106.3 255.9,106.06 256.99,105.81 258.06,105.51 259.14,105.15 260.21,104.69 261.3,104.1 262.41,103.4 263.56,102.61 264.7,101.72 265.82,100.73 266.9,99.63 267.9,98.4 268.83,97.06 269.72,95.62 270.56,94.06 271.36,92.38 272.1,90.56 272.8,88.6 273.44,86.47 274.02,84.18 274.55,81.76 275.05,79.22 275.53,76.59 276,73.9 276.45,71.08 276.87,68.11 277.28,65.06 277.67,61.97 278.07,58.93 278.5,56 278.96,53.14 279.44,50.3 279.93,47.5 280.41,44.77 280.87,42.12 281.3,39.6 281.7,37.12 282.07,34.64 282.42,32.26 282.76,30.05 283.09,28.1 283.4,26.5 283.71,25.3 284.03,24.43 284.33,23.83 284.6,23.41 284.83,23.09 285,22.8 285.2,22.76 285.46,22.71 285.78,22.64 286.15,22.58 286.56,22.53 287,22.5 287.54,22.49 288.19,22.51 288.88,22.53 289.54,22.56 290.1,22.58 290.5,22.6 291.2,22.12 292.17,21.46 293.31,20.68 294.56,19.83 295.81,18.98 297,18.2 298.22,17.42 299.56,16.57 300.91,15.72 302.17,14.94 303.23,14.28 304,13.8 304.47,14.48 305.14,15.43 305.92,16.56 306.75,17.76 307.57,18.94 308.3,20 308.95,20.94 309.58,21.83 310.19,22.7 310.8,23.58 311.4,24.5 312,25.5 312.65,26.66 313.34,27.98 314.03,29.34 314.67,30.63 315.21,31.72 315.6,32.5 315.79,32.99 316.04,33.59 316.35,34.33 316.68,35.28 317,36.49 317.3,38 317.56,39.9 317.81,42.16 318.06,44.67 318.31,47.34 318.59,50.05 318.9,52.7 319.25,55.38 319.64,58.19 320.04,61.05 320.46,63.86 320.88,66.54 321.3,69 321.69,71.2 322.07,73.19 322.44,75.06 322.84,76.85 323.29,78.64 323.8,80.5 324.37,82.44 324.99,84.43 325.65,86.41 326.36,88.35 327.11,90.19 327.9,91.9 328.74,93.48 329.62,94.96 330.54,96.35 331.51,97.65 332.53,98.87 333.6,100 334.73,101.05 335.91,102.02 337.15,102.91 338.42,103.7 339.71,104.4 341,105 342.3,105.48 343.62,105.83 344.96,106.08 346.31,106.27 347.7,106.44 349.1,106.6 350.41,106.75 351.59,106.86 352.79,106.94 354.16,107 355.85,107.05 358,107.1 360.96,107.14 364.67,107.17 368.71,107.18 372.61,107.19 375.96,107.19 378.3,107.2' fill='none' stroke='#e01050' stroke-opacity='0.38' stroke-width='1.1' stroke-linejoin='round'/>
<polyline points='255.9,106.06 256.99,105.81 258.06,105.51 259.14,105.15 260.21,104.69 261.3,104.1 262.41,103.4 263.56,102.61 264.7,101.72 265.82,100.73 266.9,99.63 267.9,98.4 268.83,97.06 269.72,95.62 270.56,94.06 271.36,92.38 272.1,90.56 272.8,88.6' fill='none' stroke='#e01050' stroke-opacity='0.35' stroke-width='0.9' stroke-linejoin='round' stroke-linecap='round'/>
<polyline points='278.5,56 278.96,53.14 279.44,50.3 279.93,47.5 280.41,44.77 280.87,42.12 281.3,39.6 281.7,37.12 282.07,34.64 282.42,32.26 282.76,30.05 283.09,28.1 283.4,26.5 283.71,25.3 284.03,24.43' fill='none' stroke='#e01050' stroke-opacity='0.35' stroke-width='0.9' stroke-linejoin='round' stroke-linecap='round'/>
<polyline points='288.88,22.53 289.54,22.56 290.1,22.58 290.5,22.6 291.2,22.12 292.17,21.46 293.31,20.68 294.56,19.83 295.81,18.98 297,18.2 298.22,17.42 299.56,16.57 300.91,15.72 302.17,14.94 303.23,14.28 304,13.8 304.47,14.48 305.14,15.43' fill='none' stroke='#e01050' stroke-opacity='0.35' stroke-width='0.9' stroke-linejoin='round' stroke-linecap='round'/>
<polyline points='316.68,35.28 317,36.49 317.3,38 317.56,39.9 317.81,42.16 318.06,44.67 318.31,47.34 318.59,50.05 318.9,52.7 319.25,55.38 319.64,58.19 320.04,61.05 320.46,63.86 320.88,66.54 321.3,69 321.69,71.2 322.07,73.19 322.44,75.06 322.84,76.85 323.29,78.64 323.8,80.5 324.37,82.44 324.99,84.43 325.65,86.41 326.36,88.35 327.11,90.19 327.9,91.9 328.74,93.48 329.62,94.96 330.54,96.35 331.51,97.65 332.53,98.87' fill='none' stroke='#e01050' stroke-opacity='0.35' stroke-width='0.9' stroke-linejoin='round' stroke-linecap='round'/>
<polyline points='20.8,254.8 22.45,254.79 24.82,254.77 27.59,254.76 30.42,254.74 33,254.72 35,254.7 36.36,254.69 37.31,254.68 38.02,254.67 38.61,254.66 39.22,254.64 40,254.6 40.95,254.55 41.97,254.49 43.01,254.41 44.03,254.33 45.01,254.22 45.9,254.1 46.7,253.95 47.44,253.79 48.13,253.6 48.78,253.4 49.4,253.2 50,253 50.55,252.82 51.05,252.67 51.52,252.51 51.98,252.32 52.47,252.06 53,251.7 53.61,251.22 54.27,250.63 54.96,249.98 55.63,249.3 56.26,248.63 56.8,248 57.23,247.47 57.57,247.02 57.86,246.58 58.15,246.08 58.48,245.44 58.9,244.6 59.42,243.55 60.01,242.36 60.65,241.03 61.3,239.59 61.92,238.04 62.5,236.4 63.03,234.67 63.54,232.83 64.03,230.89 64.5,228.86 64.95,226.72 65.4,224.5 65.84,222.1 66.27,219.5 66.69,216.81 67.09,214.12 67.46,211.55 67.8,209.2 68.11,207.03 68.39,204.96 68.64,203 68.87,201.17 69.09,199.5 69.3,198 69.51,196.67 69.71,195.48 69.89,194.45 70.06,193.57 70.2,192.86 70.3,192.3 70.65,191.48 71.13,190.35 71.7,189.01 72.31,187.55 72.93,186.05 73.5,184.6 74.03,183.16 74.54,181.64 75.06,180.09 75.59,178.54 76.13,177.03 76.7,175.6 77.29,174.24 77.9,172.92 78.52,171.64 79.16,170.4 79.82,169.19 80.5,168 81.24,166.8 82.04,165.59 82.87,164.41 83.67,163.3 84.39,162.32 85,161.5 85.49,160.87 85.9,160.4 86.23,160.04 86.5,159.78 86.72,159.58 86.9,159.4 90.8,159.4 90.91,159.66 91.06,159.93 91.24,160.3 91.45,160.84 91.71,161.65 92,162.8 92.35,164.39 92.76,166.37 93.21,168.61 93.68,170.98 94.15,173.35 94.6,175.6 95.03,177.76 95.47,179.94 95.91,182.13 96.34,184.3 96.77,186.43 97.2,188.5 97.62,190.49 98.03,192.4 98.44,194.28 98.85,196.14 99.27,198.04 99.7,200 100.16,202.07 100.64,204.24 101.13,206.44 101.61,208.59 102.08,210.64 102.5,212.5 102.87,214.1 103.2,215.48 103.51,216.75 103.81,218.02 104.14,219.4 104.5,221 104.89,222.88 105.28,224.96 105.69,227.14 106.14,229.36 106.64,231.5 107.2,233.5 107.84,235.38 108.54,237.21 109.3,238.98 110.09,240.67 110.89,242.25 111.7,243.7 112.49,245.02 113.26,246.23 114.05,247.34 114.89,248.34 115.79,249.26 116.8,250.1 117.92,250.84 119.13,251.47 120.41,252.02 121.74,252.49 123.11,252.91 124.5,253.3 125.9,253.64 127.31,253.91 128.76,254.14 130.27,254.32 131.84,254.47 133.5,254.6 135,254.7 136.29,254.75 137.64,254.78 139.36,254.78 141.71,254.79 145,254.8 149.84,254.82 156.13,254.84 163.07,254.86 169.84,254.88 175.66,254.89 179.7,254.9' fill='none' stroke='#eeb0c6' stroke-width='1.8' stroke-linejoin='round'/>
<polygon points='20.8,254.85 22.45,254.84 24.82,254.82 27.59,254.81 30.42,254.79 33,254.77 35,254.75 36.36,254.74 37.32,254.73 38.02,254.72 38.61,254.71 39.22,254.69 40,254.65 40.96,254.65 41.98,254.64 43.02,254.62 44.06,254.58 45.05,254.53 45.96,254.46 46.78,254.36 47.55,254.23 48.26,254.07 48.94,253.9 49.57,253.72 50.18,253.55 50.75,253.44 51.27,253.34 51.79,253.23 52.34,253.07 52.93,252.82 53.57,252.47 54.25,251.99 54.98,251.41 55.73,250.77 56.46,250.1 57.15,249.43 57.75,248.8 58.22,248.25 58.61,247.76 58.96,247.26 59.3,246.7 59.66,246.04 60.1,245.2 60.58,244.13 61.13,242.9 61.74,241.53 62.35,240.04 62.95,238.43 63.5,236.73 63.97,234.94 64.4,233.06 64.82,231.09 65.22,229.02 65.6,226.86 65.97,224.61 66.4,222.2 66.81,219.59 67.21,216.89 67.6,214.2 67.95,211.62 68.28,209.27 68.6,207.1 68.88,205.02 69.14,203.06 69.38,201.24 69.61,199.57 69.83,198.08 70.12,196.76 70.4,195.6 70.67,194.59 70.92,193.74 71.15,193.04 71.3,192.63 71.63,191.9 72.13,190.78 72.72,189.44 73.35,187.98 73.98,186.47 74.58,185.01 75.11,183.54 75.63,182.01 76.15,180.46 76.67,178.92 77.21,177.44 77.76,176.04 78.33,174.7 78.91,173.4 79.5,172.14 80.12,170.91 80.75,169.71 81.41,168.54 82.09,167.35 82.84,166.13 83.61,164.93 84.37,163.81 85.05,162.8 85.61,161.97 86.07,161.35 86.45,160.89 86.75,160.55 86.99,160.29 87.2,160.08 86.93,160.07 90.76,160.07 90.35,159.94 90.54,160.2 90.75,160.51 90.99,161 91.28,161.77 91.65,162.88 92,164.46 92.41,166.44 92.86,168.68 93.33,171.05 93.8,173.42 94.25,175.67 94.66,177.84 95.07,180.02 95.48,182.22 95.9,184.39 96.31,186.52 96.73,188.6 97.11,190.59 97.49,192.52 97.87,194.4 98.25,196.28 98.64,198.18 99.04,200.15 99.47,202.22 99.92,204.4 100.38,206.61 100.83,208.77 101.26,210.82 101.66,212.69 102.01,214.3 102.33,215.69 102.62,216.96 102.91,218.23 103.22,219.61 103.56,221.2 103.98,223.06 104.4,225.12 104.84,227.31 105.33,229.53 105.86,231.7 106.46,233.73 107.16,235.62 107.92,237.46 108.73,239.24 109.57,240.92 110.42,242.5 111.28,243.94 112.1,245.26 112.92,246.46 113.76,247.56 114.66,248.55 115.62,249.45 116.68,250.26 117.83,250.99 119.06,251.61 120.36,252.14 121.71,252.59 123.09,252.99 124.49,253.35 125.89,253.69 127.3,253.96 128.76,254.19 130.26,254.37 131.84,254.52 133.5,254.65 135,254.75 136.29,254.8 137.64,254.82 139.36,254.83 141.71,254.84 145,254.85 149.84,254.87 156.13,254.89 163.07,254.91 169.84,254.93 175.66,254.94 179.7,254.95 179.7,254.85 175.66,254.84 169.84,254.83 163.07,254.81 156.13,254.79 149.84,254.77 145,254.75 141.71,254.74 139.36,254.73 137.64,254.73 136.29,254.7 135.01,254.65 133.5,254.55 131.84,254.42 130.27,254.27 128.77,254.09 127.32,253.87 125.91,253.59 124.51,253.25 123.13,252.84 121.77,252.4 120.45,251.9 119.19,251.34 118.01,250.69 116.92,249.94 115.97,249.07 115.11,248.14 114.34,247.12 113.6,246 112.87,244.79 112.12,243.46 111.36,242 110.61,240.41 109.87,238.73 109.17,236.96 108.52,235.13 107.94,233.27 107.41,231.3 106.96,229.18 106.54,226.98 106.16,224.79 105.8,222.7 105.44,220.8 105.06,219.19 104.71,217.8 104.39,216.54 104.07,215.27 103.73,213.9 103.34,212.31 102.89,210.45 102.4,208.42 101.88,206.27 101.36,204.08 100.85,201.92 100.36,199.85 99.9,197.9 99.45,196.01 99,194.15 98.57,192.28 98.12,190.38 97.67,188.4 97.23,186.34 96.79,184.21 96.34,182.05 95.87,179.86 95.41,177.68 94.95,175.53 94.5,173.28 94.03,170.91 93.57,168.54 93.12,166.29 92.7,164.31 92.35,162.72 92.13,161.53 91.91,160.69 91.73,160.09 91.58,159.67 91.48,159.39 90.84,158.73 86.87,158.73 86.24,159.08 86.02,159.27 85.72,159.54 85.35,159.9 84.9,160.4 84.39,161.03 83.74,161.83 82.97,162.79 82.12,163.88 81.25,165.05 80.39,166.26 79.59,167.46 78.88,168.66 78.2,169.89 77.53,171.15 76.89,172.44 76.25,173.78 75.64,175.16 75.06,176.63 74.5,178.17 73.97,179.73 73.45,181.28 72.94,182.78 72.42,184.19 71.88,185.62 71.28,187.12 70.68,188.58 70.13,189.93 69.66,191.06 69.3,191.97 69.25,192.68 69.19,193.41 69.11,194.31 69.01,195.36 68.9,196.57 68.77,197.92 68.57,199.43 68.36,201.11 68.13,202.94 67.89,204.89 67.62,206.97 67.32,209.13 66.96,211.48 66.57,214.05 66.16,216.73 65.73,219.41 65.28,222 64.83,224.39 64.31,226.59 63.78,228.7 63.23,230.7 62.67,232.6 62.09,234.4 61.5,236.07 60.89,237.65 60.24,239.14 59.56,240.53 58.9,241.81 58.26,242.98 57.7,244 57.3,244.84 57,245.45 56.76,245.9 56.53,246.28 56.24,246.69 55.85,247.2 55.37,247.83 54.8,248.5 54.18,249.19 53.56,249.86 52.96,250.45 52.43,250.93 52,251.29 51.62,251.57 51.25,251.79 50.84,252 50.36,252.21 49.82,252.45 49.23,252.68 48.63,252.91 48,253.13 47.33,253.35 46.62,253.55 45.84,253.74 44.97,253.92 44.01,254.07 42.99,254.21 41.96,254.33 40.95,254.45 40,254.55 39.22,254.59 38.61,254.61 38.02,254.63 37.31,254.63 36.35,254.64 35,254.65 33,254.67 30.42,254.69 27.59,254.71 24.82,254.72 22.45,254.74 20.8,254.75' fill='#3210c6'/>
<polyline points='20.8,254.8 22.45,254.79 24.82,254.77 27.59,254.76 30.42,254.74 33,254.72 35,254.7 36.36,254.69 37.31,254.68 38.02,254.67 38.61,254.66 39.22,254.64 40,254.6 40.95,254.55 41.97,254.49 43.01,254.41 44.03,254.33 45.01,254.22 45.9,254.1 46.7,253.95 47.44,253.79 48.13,253.6 48.78,253.4 49.4,253.2 50,253 50.55,252.82 51.05,252.67 51.52,252.51 51.98,252.32 52.47,252.06 53,251.7 53.61,251.22 54.27,250.63 54.96,249.98 55.63,249.3 56.26,248.63 56.8,248 57.23,247.47 57.57,247.02 57.86,246.58 58.15,246.08 58.48,245.44 58.9,244.6 59.42,243.55 60.01,242.36 60.65,241.03 61.3,239.59 61.92,238.04 62.5,236.4 63.03,234.67 63.54,232.83 64.03,230.89 64.5,228.86 64.95,226.72 65.4,224.5 65.84,222.1 66.27,219.5 66.69,216.81 67.09,214.12 67.46,211.55 67.8,209.2 68.11,207.03 68.39,204.96 68.64,203 68.87,201.17 69.09,199.5 69.3,198 69.51,196.67 69.71,195.48 69.89,194.45 70.06,193.57 70.2,192.86 70.3,192.3 70.65,191.48 71.13,190.35 71.7,189.01 72.31,187.55 72.93,186.05 73.5,184.6 74.03,183.16 74.54,181.64 75.06,180.09 75.59,178.54 76.13,177.03 76.7,175.6 77.29,174.24 77.9,172.92 78.52,171.64 79.16,170.4 79.82,169.19 80.5,168 81.24,166.8 82.04,165.59 82.87,164.41 83.67,163.3 84.39,162.32 85,161.5 85.49,160.87 85.9,160.4 86.23,160.04 86.5,159.78 86.72,159.58 86.9,159.4 90.8,159.4 90.91,159.66 91.06,159.93 91.24,160.3 91.45,160.84 91.71,161.65 92,162.8 92.35,164.39 92.76,166.37 93.21,168.61 93.68,170.98 94.15,173.35 94.6,175.6 95.03,177.76 95.47,179.94 95.91,182.13 96.34,184.3 96.77,186.43 97.2,188.5 97.62,190.49 98.03,192.4 98.44,194.28 98.85,196.14 99.27,198.04 99.7,200 100.16,202.07 100.64,204.24 101.13,206.44 101.61,208.59 102.08,210.64 102.5,212.5 102.87,214.1 103.2,215.48 103.51,216.75 103.81,218.02 104.14,219.4 104.5,221 104.89,222.88 105.28,224.96 105.69,227.14 106.14,229.36 106.64,231.5 107.2,233.5 107.84,235.38 108.54,237.21 109.3,238.98 110.09,240.67 110.89,242.25 111.7,243.7 112.49,245.02 113.26,246.23 114.05,247.34 114.89,248.34 115.79,249.26 116.8,250.1 117.92,250.84 119.13,251.47 120.41,252.02 121.74,252.49 123.11,252.91 124.5,253.3 125.9,253.64 127.31,253.91 128.76,254.14 130.27,254.32 131.84,254.47 133.5,254.6 135,254.7 136.29,254.75 137.64,254.78 139.36,254.78 141.71,254.79 145,254.8 149.84,254.82 156.13,254.84 163.07,254.86 169.84,254.88 175.66,254.89 179.7,254.9' fill='none' stroke='#e01050' stroke-opacity='0.38' stroke-width='1.1' stroke-linejoin='round'/>
<polyline points='44.03,254.33 45.01,254.22 45.9,254.1 46.7,253.95 47.44,253.79 48.13,253.6 48.78,253.4 49.4,253.2 50,253 50.55,252.82 51.05,252.67 51.52,252.51 51.98,252.32 52.47,252.06 53,251.7' fill='none' stroke='#e01050' stroke-opacity='0.35' stroke-width='0.9' stroke-linejoin='round' stroke-linecap='round'/>
<polyline points='63.03,234.67 63.54,232.83 64.03,230.89 64.5,228.86 64.95,226.72 65.4,224.5 65.84,222.1 66.27,219.5 66.69,216.81 67.09,214.12 67.46,211.55 67.8,209.2 68.11,207.03 68.39,204.96 68.64,203 68.87,201.17 69.09,199.5 69.3,198 69.51,196.67 69.71,195.48 69.89,194.45 70.06,193.57 70.2,192.86' fill='none' stroke='#e01050' stroke-opacity='0.35' stroke-width='0.9' stroke-linejoin='round' stroke-linecap='round'/>
<polyline points='81.24,166.8 82.04,165.59 82.87,164.41 83.67,163.3 84.39,162.32 85,161.5 85.49,160.87 85.9,160.4 86.23,160.04 86.5,159.78 86.72,159.58 86.9,159.4 90.8,159.4 90.91,159.66 91.06,159.93 91.24,160.3 91.45,160.84 91.71,161.65 92,162.8 92.35,164.39 92.76,166.37 93.21,168.61 93.68,170.98 94.15,173.35 94.6,175.6 95.03,177.76 95.47,179.94 95.91,182.13 96.34,184.3 96.77,186.43 97.2,188.5 97.62,190.49 98.03,192.4 98.44,194.28 98.85,196.14 99.27,198.04 99.7,200 100.16,202.07 100.64,204.24 101.13,206.44 101.61,208.59 102.08,210.64 102.5,212.5 102.87,214.1 103.2,215.48 103.51,216.75 103.81,218.02 104.14,219.4 104.5,221 104.89,222.88 105.28,224.96 105.69,227.14 106.14,229.36 106.64,231.5 107.2,233.5 107.84,235.38 108.54,237.21 109.3,238.98 110.09,240.67 110.89,242.25 111.7,243.7 112.49,245.02 113.26,246.23 114.05,247.34 114.89,248.34 115.79,249.26' fill='none' stroke='#e01050' stroke-opacity='0.35' stroke-width='0.9' stroke-linejoin='round' stroke-linecap='round'/>
<polyline points='218.8,254.5 220.11,254.5 221.99,254.51 224.18,254.51 226.42,254.51 228.45,254.51 230,254.5 231.04,254.49 231.78,254.5 232.31,254.49 232.71,254.47 233.08,254.41 233.5,254.3 233.96,254.16 234.39,254.02 234.78,253.84 235.14,253.59 235.48,253.26 235.8,252.8 236.08,252.34 236.31,251.93 236.53,251.43 236.73,250.7 236.95,249.6 237.2,248 237.49,245.88 237.79,243.35 238.11,240.45 238.43,237.23 238.77,233.73 239.1,230 239.44,225.89 239.78,221.33 240.12,216.5 240.48,211.56 240.84,206.67 241.2,202 241.58,197.38 241.97,192.65 242.37,187.97 242.76,183.52 243.14,179.47 243.5,176 243.83,173.16 244.13,170.81 244.41,168.87 244.7,167.23 244.99,165.81 245.3,164.5 245.66,163.37 246.06,162.49 246.46,161.83 246.84,161.33 247.17,160.94 247.4,160.6 247.64,160.79 247.93,160.96 248.29,161.21 248.75,161.64 249.31,162.37 250,163.5 250.85,165.13 251.87,167.19 252.99,169.54 254.17,172.06 255.35,174.59 256.5,177 257.69,179.49 259,182.21 260.31,184.94 261.53,187.49 262.56,189.65 263.3,191.2 271,191.6 272.09,190.4 273.64,188.7 275.46,186.71 277.36,184.64 279.13,182.7 280.6,181.1 281.75,179.86 282.73,178.81 283.59,177.89 284.39,177.04 285.17,176.19 286,175.3 286.91,174.3 287.88,173.24 288.84,172.19 289.72,171.21 290.46,170.39 291,169.8 297.3,167.6' fill='none' stroke='#eeb0c6' stroke-width='1.8' stroke-linejoin='round'/>
<polygon points='218.8,254.55 220.11,254.55 221.99,254.56 224.18,254.56 226.42,254.56 228.45,254.56 230,254.55 231.04,254.54 231.78,254.55 232.31,254.54 232.71,254.52 233.09,254.46 233.51,254.35 233.98,254.22 234.42,254.09 234.82,253.91 235.21,253.67 235.57,253.33 235.91,252.87 236.21,252.42 236.48,252.01 236.72,251.5 236.95,250.75 237.2,249.65 237.48,248.04 237.78,245.92 238.1,243.38 238.43,240.48 238.77,237.26 239.11,233.76 239.46,230.03 239.81,225.92 240.16,221.36 240.52,216.53 240.89,211.59 241.26,206.7 241.64,202.03 242.04,197.42 242.45,192.69 242.88,188.01 243.29,183.57 243.7,179.53 244.08,176.06 244.51,173.24 244.92,170.92 245.31,169.01 245.7,167.42 246.1,166.05 246.5,164.83 246.93,163.84 247.35,163.17 247.77,162.72 248.17,162.37 248.6,162.03 247.96,162.43 246.61,162.31 247,162.44 247.22,162.49 247.55,162.69 248.05,163.22 248.75,164.2 249.62,165.75 250.66,167.77 251.82,170.1 253.04,172.58 254.27,175.1 255.46,177.5 256.57,180.03 257.79,182.79 259.01,185.56 260.15,188.15 261.09,190.35 262.91,192.88 271.16,193.31 273.3,191.51 274.8,189.76 276.56,187.71 278.39,185.59 280.11,183.59 281.52,181.94 282.7,180.74 283.71,179.72 284.6,178.84 285.43,178.02 286.26,177.2 287.13,176.34 288.08,175.37 289.08,174.33 290.08,173.31 290.99,172.37 291.77,171.58 291.69,171.48 297.8,169.04 296.8,166.16 290.31,168.12 289.15,169.21 288.44,170.06 287.6,171.06 286.68,172.15 285.75,173.24 284.87,174.26 284.09,175.19 283.34,176.06 282.58,176.94 281.75,177.89 280.8,178.98 279.68,180.26 278.16,181.8 276.32,183.69 274.37,185.71 272.49,187.65 270.88,189.3 270.84,189.89 263.69,189.52 264.02,188.95 262.91,186.83 261.6,184.32 260.2,181.63 258.82,178.95 257.54,176.5 256.44,174.08 255.29,171.53 254.16,168.99 253.07,166.61 252.09,164.5 251.25,162.8 250.57,161.52 249.95,160.59 249.36,159.92 248.86,159.48 248.67,159.28 246.84,158.77 245.74,159.85 245.52,160.28 245.16,160.95 244.76,161.81 244.39,162.89 244.1,164.17 243.88,165.56 243.69,167.04 243.51,168.73 243.33,170.7 243.14,173.07 242.92,175.94 242.59,179.42 242.23,183.47 241.86,187.92 241.49,192.61 241.12,197.35 240.76,201.97 240.41,206.63 240.07,211.53 239.73,216.47 239.39,221.31 239.06,225.86 238.74,229.97 238.42,233.7 238.1,237.2 237.79,240.42 237.48,243.31 237.19,245.84 236.92,247.96 236.7,249.56 236.5,250.65 236.33,251.37 236.15,251.85 235.95,252.27 235.69,252.73 235.39,253.18 235.08,253.51 234.74,253.76 234.36,253.95 233.94,254.1 233.49,254.25 233.06,254.36 232.7,254.42 232.3,254.44 231.78,254.45 231.04,254.44 230,254.45 228.45,254.46 226.42,254.46 224.18,254.46 221.99,254.46 220.11,254.45 218.8,254.45' fill='#3210c6'/>
<polygon points='287,172.4 290.4,168 293.5,166.4 297.3,165 305,166.5 310,167.4 377.9,169.8 377.9,191.9 363,191.9 310,171.1 305,170.4 297.3,170.3 291.5,171.6 287,176' fill='#0000f0'/>
<polyline points='218.8,254.5 220.11,254.5 221.99,254.51 224.18,254.51 226.42,254.51 228.45,254.51 230,254.5 231.04,254.49 231.78,254.5 232.31,254.49 232.71,254.47 233.08,254.41 233.5,254.3 233.96,254.16 234.39,254.02 234.78,253.84 235.14,253.59 235.48,253.26 235.8,252.8 236.08,252.34 236.31,251.93 236.53,251.43 236.73,250.7 236.95,249.6 237.2,248 237.49,245.88 237.79,243.35 238.11,240.45 238.43,237.23 238.77,233.73 239.1,230 239.44,225.89 239.78,221.33 240.12,216.5 240.48,211.56 240.84,206.67 241.2,202 241.58,197.38 241.97,192.65 242.37,187.97 242.76,183.52 243.14,179.47 243.5,176 243.83,173.16 244.13,170.81 244.41,168.87 244.7,167.23 244.99,165.81 245.3,164.5 245.66,163.37 246.06,162.49 246.46,161.83 246.84,161.33 247.17,160.94 247.4,160.6 247.64,160.79 247.93,160.96 248.29,161.21 248.75,161.64 249.31,162.37 250,163.5 250.85,165.13 251.87,167.19 252.99,169.54 254.17,172.06 255.35,174.59 256.5,177 257.69,179.49 259,182.21 260.31,184.94 261.53,187.49 262.56,189.65 263.3,191.2 271,191.6 272.09,190.4 273.64,188.7 275.46,186.71 277.36,184.64 279.13,182.7 280.6,181.1 281.75,179.86 282.73,178.81 283.59,177.89 284.39,177.04 285.17,176.19 286,175.3 286.91,174.3 287.88,173.24 288.84,172.19 289.72,171.21 290.46,170.39 291,169.8 297.3,167.6 305,168.3 310,169.1 362.9,180.8 377.7,180.9' fill='none' stroke='#e01050' stroke-opacity='0.38' stroke-width='1.1' stroke-linejoin='round'/>
<polyline points='236.95,249.6 237.2,248 237.49,245.88 237.79,243.35 238.11,240.45 238.43,237.23 238.77,233.73 239.1,230 239.44,225.89 239.78,221.33 240.12,216.5 240.48,211.56 240.84,206.67 241.2,202 241.58,197.38 241.97,192.65 242.37,187.97 242.76,183.52 243.14,179.47 243.5,176 243.83,173.16 244.13,170.81 244.41,168.87' fill='none' stroke='#e01050' stroke-opacity='0.35' stroke-width='0.9' stroke-linejoin='round' stroke-linecap='round'/>
</g>
<g class="tb">
<path d='M91.7 293.3H387.4M91.7 462.1H387.4' stroke='#333' stroke-width='1.4'/>
<path d='M91.7 307.5H387.4 M91.7 321.5H387.4 M91.7 335.5H387.4 M91.7 349.5H387.4 M91.7 363.5H387.4 M91.7 377.5H387.4 M91.7 391.5H387.4 M91.7 405.5H387.4 M91.7 419.5H387.4 M91.7 433.5H387.4 M91.7 447.5H387.4' stroke='#8a8a8a' stroke-width='1'/>
<text transform='translate(193.9 304.7) scale(1.1 1)' font-weight='bold'>Vegetation Type</text>
<text transform='translate(341 304.7) scale(1.085 1)' font-weight='bold'>Suitability</text>
<text transform='translate(193.6 318.45) scale(1.082 1)'>Anabasis brevifolia</text>
<text transform='translate(341.3 318.45) scale(1.0 1)'>0.64</text>
<text transform='translate(193.6 332.45) scale(1.118 1)'>Salsola abrotanoides</text>
<text transform='translate(341.3 332.45) scale(1.0 1)'>0.58</text>
<text transform='translate(193.6 346.45) scale(1.107 1)'>Longmang grass and Leymus chinensis</text>
<text transform='translate(341.3 346.45) scale(1.0 1)'>0.64</text>
<text transform='translate(193.6 360.45) scale(1.13 1)'>Thyme and tufted grass</text>
<text transform='translate(341.3 360.45) scale(1.0 1)'>0.89</text>
<text transform='translate(193.6 374.45) scale(1.14 1)'>Stipa grandis</text>
<text transform='translate(341.3 374.45) scale(1.0 1)'>0.57</text>
<text transform='translate(193.6 388.45) scale(1.126 1)'>Short Caragana and short grass</text>
<text transform='translate(341.3 388.45) scale(1.0 1)'>0.67</text>
<text transform='translate(193.6 402.45) scale(1.11 1)'>Cleistogenes squarrosa</text>
<text transform='translate(341.3 402.45) scale(1.0 1)'>0.54</text>
<text transform='translate(193.6 416.45) scale(1.09 1)'>Artemisia frigida</text>
<text transform='translate(341.3 416.45) scale(1.0 1)'>0.62</text>
<text transform='translate(193.6 430.45) scale(1.1 1)'>Leymus chinensis and miscellaneous</text>
<text transform='translate(341.3 430.45) scale(1.0 1)'>0.66</text>
<text transform='translate(193.6 444.45) scale(1.133 1)'>Chrysanthemum lineatum and grass</text>
<text transform='translate(341.3 444.45) scale(1.0 1)'>0.71</text>
<text transform='translate(193.6 458.45) scale(1.1 1)'>Leymus chinensis and alkali grass</text>
<text transform='translate(341.3 458.45) scale(1.0 1)'>0.75</text>
<path d='M91.7 476.7H295.3M91.7 547.0H295.3' stroke='#333' stroke-width='1.4'/>
<path d='M91.7 490.5H295.3 M91.7 504.5H295.3 M91.7 518.5H295.3 M91.7 532.5H295.3' stroke='#8a8a8a' stroke-width='1'/>
<text transform='translate(147.8 488.1) scale(1.1 1)' font-weight='bold'>Soil Type</text>
<text transform='translate(248.9 488.1) scale(1.085 1)' font-weight='bold'>Suitability</text>
<text transform='translate(147.3 501.45) scale(1.105 1)'>Cinnamon soil</text>
<text transform='translate(248.9 501.45) scale(1.0 1)'>0.87</text>
<text transform='translate(147.3 515.45) scale(1.115 1)'>Chernozem</text>
<text transform='translate(248.9 515.45) scale(1.0 1)'>0.67</text>
<text transform='translate(147.3 529.45) scale(1.095 1)'>Coarse bony soil</text>
<text transform='translate(248.9 529.45) scale(1.0 1)'>0.80</text>
<text transform='translate(147.3 543.45) scale(1.1 1)'>Swampy soil</text>
<text transform='translate(248.9 543.45) scale(1.0 1)'>0.74</text>
</g>
</svg>
</body></html>
